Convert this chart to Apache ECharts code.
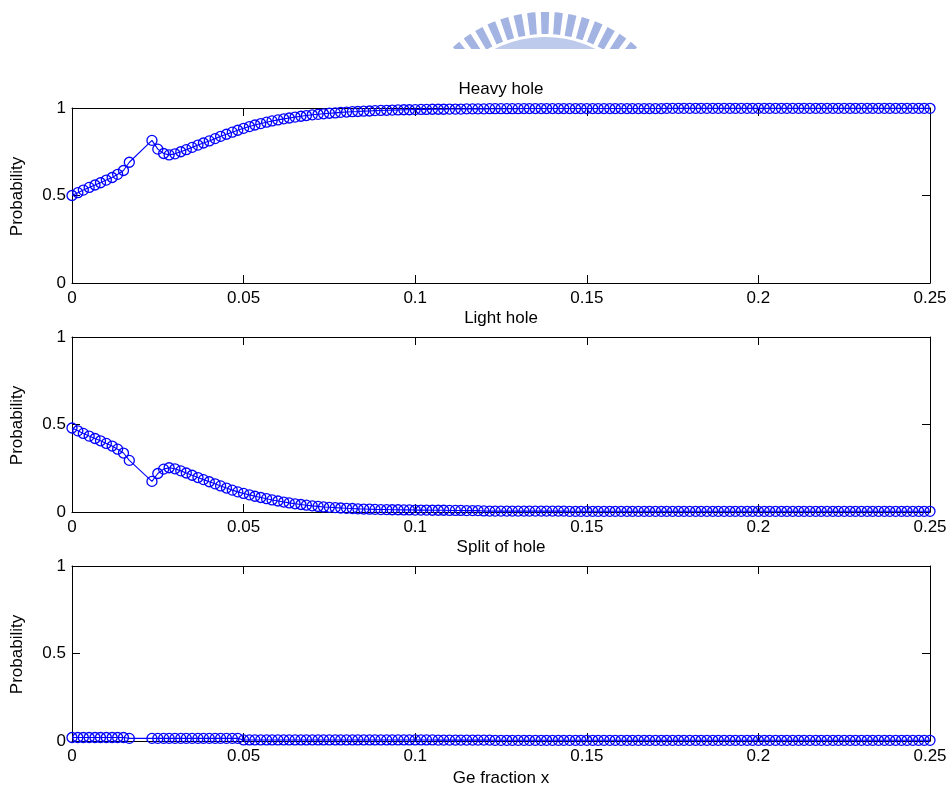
<!DOCTYPE html>
<html><head><meta charset="utf-8">
<script src="https://cdn.jsdelivr.net/npm/echarts@6/dist/echarts.min.js"></script>
<style>html,body{margin:0;padding:0;background:#fff}#c{width:951px;height:790px}</style>
</head><body><div id="c"></div>
<script>
// Ge fraction x (sample positions)
const xVals = [
0,0.0017,0.0033,0.005,0.0067,0.0083,0.01,0.0117,0.0133,0.015,0.0167,
0.0233,0.025,0.0267,0.0283,0.03,0.0317,0.0333,0.035,0.0367,0.0383,
0.04,0.0417,0.0433,0.045,0.0467,0.0483,0.05,0.0517,0.0533,0.055,
0.0567,0.0583,0.06,0.0617,0.0633,0.065,0.0667,0.0683,0.07,0.0717,
0.0733,0.075,0.0767,0.0783,0.08,0.0817,0.0833,0.085,0.0867,0.0883,
0.09,0.0917,0.0933,0.095,0.0967,0.0983,0.1,0.1017,0.1033,0.105,
0.1067,0.1083,0.11,0.1117,0.1133,0.115,0.1167,0.1183,0.12,0.1217,
0.1233,0.125,0.1267,0.1283,0.13,0.1317,0.1333,0.135,0.1367,0.1383,
0.14,0.1417,0.1433,0.145,0.1467,0.1483,0.15,0.1517,0.1533,0.155,
0.1567,0.1583,0.16,0.1617,0.1633,0.165,0.1667,0.1683,0.17,0.1717,
0.1733,0.175,0.1767,0.1783,0.18,0.1817,0.1833,0.185,0.1867,0.1883,
0.19,0.1917,0.1933,0.195,0.1967,0.1983,0.2,0.2017,0.2033,0.205,
0.2067,0.2083,0.21,0.2117,0.2133,0.215,0.2167,0.2183,0.22,0.2217,
0.2233,0.225,0.2267,0.2283,0.23,0.2317,0.2333,0.235,0.2367,0.2383,
0.24,0.2417,0.2433,0.245,0.2467,0.2483,0.25
];
// Heavy hole probability
const heavyHole = [
0.50,0.516,0.531,0.546,0.56,0.573,0.588,0.603,0.621,0.643,0.69,
0.815,0.765,0.74,0.732,0.738,0.75,0.762,0.775,0.788,0.80,
0.812,0.825,0.838,0.85,0.862,0.873,0.884,0.894,0.903,0.911,
0.919,0.926,0.932,0.938,0.943,0.948,0.953,0.957,0.961,0.964,
0.967,0.97,0.972,0.975,0.977,0.979,0.98,0.982,0.983,0.985,
0.986,0.987,0.988,0.989,0.99,0.99,0.991,0.992,0.992,0.993,
0.993,0.993,0.994,0.994,0.994,0.995,0.995,0.995,0.995,0.996,
0.996,0.996,0.996,0.996,0.996,0.997,0.997,0.997,0.997,0.997,
0.997,0.997,0.997,0.997,0.997,0.997,0.997,0.997,0.997,0.997,
0.997,0.997,0.997,0.997,0.997,0.997,0.997,0.997,0.997,0.997,
0.998,0.998,0.998,0.998,0.998,0.998,0.998,0.998,0.998,0.998,
0.998,0.998,0.998,0.998,0.998,0.998,0.998,0.998,0.998,0.998,
0.998,0.998,0.998,0.998,0.998,0.998,0.998,0.998,0.998,0.998,
0.998,0.998,0.998,0.998,0.998,0.998,0.998,0.998,0.998,0.998,
0.998,0.998,0.998,0.998,0.998,0.998,0.998
];
// Light hole probability
const lightHole = [
0.48,0.464,0.449,0.434,0.42,0.407,0.392,0.377,0.359,0.337,0.295,
0.175,0.22,0.245,0.253,0.247,0.235,0.223,0.21,0.197,0.185,
0.173,0.161,0.149,0.137,0.125,0.115,0.106,0.098,0.09,0.083,
0.076,0.069,0.063,0.057,0.052,0.047,0.043,0.039,0.035,0.032,
0.029,0.027,0.025,0.023,0.021,0.02,0.018,0.017,0.016,0.015,
0.014,0.014,0.013,0.013,0.012,0.012,0.011,0.011,0.011,0.01,
0.01,0.01,0.009,0.009,0.009,0.008,0.008,0.008,0.006,0.005,
0.005,0.005,0.005,0.005,0.005,0.005,0.005,0.005,0.005,0.005,
0.005,0.005,0.005,0.004,0.004,0.004,0.004,0.004,0.004,0.004,
0.004,0.004,0.004,0.004,0.004,0.004,0.004,0.004,0.004,0.004,
0.004,0.004,0.004,0.004,0.004,0.004,0.004,0.004,0.004,0.004,
0.004,0.004,0.004,0.004,0.004,0.004,0.004,0.004,0.004,0.004,
0.004,0.004,0.004,0.004,0.004,0.004,0.004,0.004,0.004,0.004,
0.004,0.004,0.004,0.004,0.004,0.004,0.004,0.004,0.004,0.004,
0.004,0.004,0.004,0.004,0.004,0.004,0.004
];
// Split-off hole probability
const splitOff = [
0.02,0.02,0.02,0.02,0.02,0.02,0.02,0.02,0.02,0.02,0.015,
0.015,0.015,0.015,0.015,0.015,0.015,0.015,0.015,0.015,0.015,
0.015,0.015,0.015,0.015,0.015,0.015,0.006,0.006,0.006,0.006,
0.006,0.006,0.006,0.006,0.006,0.006,0.006,0.006,0.006,0.006,
0.006,0.006,0.006,0.006,0.006,0.006,0.006,0.006,0.006,0.006,
0.006,0.006,0.006,0.006,0.006,0.006,0.006,0.006,0.006,0.006,
0.005,0.005,0.005,0.005,0.005,0.005,0.005,0.005,0.005,0.005,
0.004,0.004,0.004,0.004,0.004,0.004,0.004,0.004,0.004,0.004,
0.004,0.004,0.004,0.004,0.004,0.004,0.004,0.004,0.004,0.004,
0.004,0.004,0.004,0.004,0.004,0.004,0.004,0.004,0.004,0.004,
0.004,0.004,0.004,0.004,0.004,0.004,0.004,0.004,0.004,0.004,
0.004,0.004,0.004,0.004,0.004,0.004,0.004,0.004,0.004,0.004,
0.004,0.004,0.004,0.004,0.004,0.004,0.004,0.004,0.004,0.004,
0.004,0.004,0.004,0.004,0.004,0.004,0.004,0.004,0.004,0.004,
0.004,0.004,0.004,0.004,0.004,0.004,0.004
];
const panelTitles = ['Heavy hole', 'Light hole', 'Split of hole'];
const xTickLabels = ['0', '0.05', '0.1', '0.15', '0.2', '0.25'];
const yTickLabels = ['0', '0.5', '1'];
const xAxisTitle = 'Ge fraction x';
const yAxisTitle = 'Probability';

const FONT = '"Liberation Sans", Arial, sans-serif';
const FS = 17;
const BLUE = '#0000ff';
const panelTops = [108, 337, 566];
const PH = 175, PL = 72, PW = 858;

const seriesValues = [heavyHole, lightHole, splitOff];

const grid = panelTops.map(t => ({ left: PL, width: PW, top: t, height: PH }));

function xLab(v) {
  const idx = Math.round(v / 0.05);
  return xTickLabels[idx] !== undefined ? xTickLabels[idx] : '';
}
function yLab(v) {
  const idx = Math.round(v / 0.5);
  return yTickLabels[idx] !== undefined ? yTickLabels[idx] : '';
}

const xAxis = [], yAxis = [], series = [];
panelTops.forEach((t, i) => {
  const common = {
    type: 'value', gridIndex: i, splitLine: { show: false },
    axisLine: { show: true, onZero: false, lineStyle: { color: '#000', width: 1 } },
    axisTick: { show: true, inside: true, length: 8, lineStyle: { color: '#000', width: 1 } }
  };
  xAxis.push(Object.assign({}, common, {
    position: 'bottom', min: 0, max: 0.25, interval: 0.05,
    axisLabel: { show: true, color: '#000', fontFamily: FONT, fontSize: FS, margin: 7, formatter: xLab }
  }));
  xAxis.push(Object.assign({}, common, {
    position: 'top', min: 0, max: 0.25, interval: 0.05, axisLabel: { show: false }
  }));
  yAxis.push(Object.assign({}, common, {
    position: 'left', min: 0, max: 1, interval: 0.5,
    axisLabel: { show: true, color: '#000', fontFamily: FONT, fontSize: FS, margin: 6, formatter: yLab }
  }));
  yAxis.push(Object.assign({}, common, {
    position: 'right', min: 0, max: 1, interval: 0.5, axisLabel: { show: false }
  }));
  series.push({
    type: 'line', xAxisIndex: 2 * i, yAxisIndex: 2 * i, color: BLUE,
    data: xVals.map((x, k) => [x, seriesValues[i][k]]),
    symbol: 'circle', symbolSize: 10, showSymbol: true, clip: false,
    lineStyle: { color: BLUE, width: 1.1, opacity: 1 },
    itemStyle: { color: 'rgba(0,0,0,0)', borderColor: BLUE, borderWidth: 1.3 },
    emphasis: { disabled: true }, silent: true
  });
});

// text labels
const graphic = [];
panelTitles.forEach((t, i) => {
  graphic.push({ type: 'text', x: PL + PW / 2, y: panelTops[i] - 19,
    style: { text: t, fontFamily: FONT, fontSize: FS, fill: '#000', align: 'center', verticalAlign: 'middle', textAlign: 'center', textVerticalAlign: 'middle' } });
  graphic.push({ type: 'text', x: 17, y: panelTops[i] + PH / 2 + 1, rotation: Math.PI / 2,
    style: { text: yAxisTitle, fontFamily: FONT, fontSize: FS, fill: '#000', align: 'center', verticalAlign: 'middle', textAlign: 'center', textVerticalAlign: 'middle' } });
});
graphic.push({ type: 'text', x: PL + PW / 2, y: 778,
  style: { text: xAxisTitle, fontFamily: FONT, fontSize: FS, fill: '#000', align: 'center', verticalAlign: 'middle', textAlign: 'center', textVerticalAlign: 'middle' } });

// faded watermark emblem at top
const wm = '#a3b3e2';
const cx = 545, cy = 150;
for (let a = -0.70; a <= 0.701; a += 0.1) {
  const mid = -Math.PI / 2 + a;
  graphic.push({ type: 'sector', z: -1, shape: { cx, cy, r0: 116, r: 138, startAngle: mid - 0.03, endAngle: mid + 0.03 }, style: { fill: wm } });
}
graphic.push({ type: 'sector', z: -1, shape: { cx, cy, r0: 100, r: 113, startAngle: -Math.PI / 2 - 0.8, endAngle: -Math.PI / 2 + 0.8 }, style: { fill: wm, opacity: 0.7 } });
graphic.push({ type: 'rect', z: -1, shape: { x: 420, y: 49, width: 260, height: 40 }, style: { fill: '#fff' } });

const chart = echarts.init(document.getElementById('c'), null, { renderer: 'canvas' });
chart.setOption({
  animation: false, backgroundColor: '#fff',
  grid, xAxis, yAxis, series, graphic
});
</script></body></html>
